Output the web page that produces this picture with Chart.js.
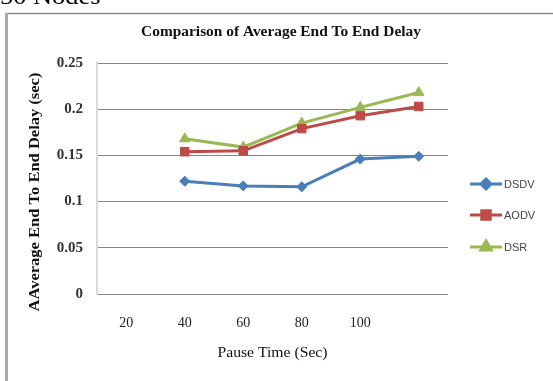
<!DOCTYPE html>
<html>
<head>
<meta charset="utf-8">
<script src="https://cdn.jsdelivr.net/npm/chart.js@4/dist/chart.umd.min.js"></script>
<style>
  html, body { margin: 0; padding: 0; background: #fff; }
  #wrap { width: 553px; height: 381px; position: relative; }
</style>
</head>
<body>
<div id="wrap"><canvas id="c" width="553" height="381"></canvas></div>
<script>
// Pause time categories (last slot carries no label)
const categories = ['20', '40', '60', '80', '100', ''];
// Average end-to-end delay (sec) per protocol
const dsdv = [null, 0.122, 0.117, 0.116, 0.146, 0.149];
const aodv = [null, 0.154, 0.155, 0.179, 0.193, 0.203];
const dsr  = [null, 0.168, 0.159, 0.185, 0.202, 0.218];
const seriesNames = ['DSDV', 'AODV', 'DSR'];
const yTickValues = [0, 0.05, 0.1, 0.15, 0.2, 0.25];

const colors = ['#4A7EBB', '#BE4B48', '#98B954'];
const styles = ['rectRot', 'rect', 'triangle'];
const radii = [5, 6, 6];

const SERIF = '"Liberation Serif", "Times New Roman", serif';
const SANS = '"Liberation Sans", Arial, sans-serif';

// draw text centred at (x, y), widened horizontally by sx
function wideText(ctx, text, x, y, sx, angle) {
  ctx.save();
  ctx.translate(x, y);
  if (angle) ctx.rotate(angle);
  ctx.scale(sx, 1);
  ctx.textAlign = 'center';
  ctx.textBaseline = 'middle';
  ctx.fillText(text, 0, 0);
  ctx.restore();
}

const decor = {
  id: 'decor',
  beforeDraw(chart) {
    const ctx = chart.ctx;
    ctx.save();
    // caption above the frame
    ctx.fillStyle = '#000';
    ctx.font = '24px ' + SERIF;
    ctx.textBaseline = 'alphabetic';
    ctx.textAlign = 'left';
    ctx.save();
    ctx.scale(1.1, 1);
    ctx.fillText('50 Nodes', 0, 4);
    ctx.restore();
    // frame
    ctx.strokeStyle = '#8a8a8a';
    ctx.lineWidth = 1.5;
    ctx.beginPath();
    ctx.moveTo(5, 13.5);
    ctx.lineTo(553, 13.5);
    ctx.stroke();
    ctx.fillStyle = '#ababab';
    ctx.fillRect(5, 13, 3, 368);
    ctx.restore();
  },
  afterDraw(chart) {
    const ctx = chart.ctx;
    const area = chart.chartArea;
    ctx.save();
    ctx.fillStyle = '#111';
    // chart title
    ctx.font = 'bold 14px ' + SERIF;
    wideText(ctx, 'Comparison of Average End To End Delay', 281, 32, 1.1);
    // x axis title
    ctx.font = '14px ' + SERIF;
    wideText(ctx, 'Pause Time (Sec)', (area.left + area.right) / 2, 353, 1.12);
    // y axis title
    ctx.font = 'bold 15px ' + SERIF;
    wideText(ctx, 'AAverage End To End Delay (sec)', 35, 192, 1.1, -Math.PI / 2);
    ctx.restore();

    // legend
    ctx.save();
    const ys = [184, 215, 247];
    chart.data.datasets.forEach((ds, i) => {
      const y = ys[i];
      ctx.strokeStyle = ds.borderColor;
      ctx.lineWidth = 3;
      ctx.beginPath();
      ctx.moveTo(470, y);
      ctx.lineTo(502, y);
      ctx.stroke();
      ctx.fillStyle = ds.borderColor;
      Chart.helpers.drawPoint(ctx, {
        pointStyle: ds.pointStyle, radius: ds.pointRadius, rotation: 0, borderWidth: 1
      }, 486, y);
      ctx.fillStyle = '#444';
      ctx.font = '11px ' + SANS;
      ctx.textAlign = 'left';
      ctx.textBaseline = 'middle';
      ctx.fillText(ds.label, 504, y + 1);
    });
    ctx.restore();
  }
};

const values = [dsdv, aodv, dsr];
new Chart(document.getElementById('c'), {
  type: 'line',
  data: {
    labels: categories,
    datasets: seriesNames.map((name, i) => ({
      label: name,
      data: values[i],
      borderColor: colors[i],
      backgroundColor: colors[i],
      borderWidth: 3,
      pointStyle: styles[i],
      pointRadius: radii[i],
      pointBorderWidth: 1,
      tension: 0,
      spanGaps: false
    }))
  },
  options: {
    responsive: false,
    animation: false,
    devicePixelRatio: 1,
    layout: { padding: { left: 0, top: 63, right: 105, bottom: 0 } },
    plugins: { legend: { display: false }, title: { display: false }, tooltip: { enabled: false } },
    scales: {
      x: {
        type: 'category',
        offset: true,
        grid: { display: false, drawTicks: false },
        border: { display: false },
        ticks: {
          padding: 21,
          color: '#222',
          font: { family: SERIF, size: 14 },
          maxRotation: 0,
          autoSkip: false
        },
        afterFit(scale) { scale.height = 87; }
      },
      y: {
        min: 0,
        max: 0.25,
        afterBuildTicks(scale) { scale.ticks = yTickValues.map(v => ({ value: v })); },
        grid: { color: '#868686', lineWidth: 1, drawTicks: false },
        border: { display: true, color: '#d9d9d9', width: 2 },
        ticks: {
          padding: 14,
          color: '#333',
          font: { family: SERIF, size: 15, weight: 'bold' },
          callback: (v) => String(v)
        },
        afterFit(scale) { scale.width = 97; }
      }
    }
  },
  plugins: [decor]
});
</script>
</body>
</html>
